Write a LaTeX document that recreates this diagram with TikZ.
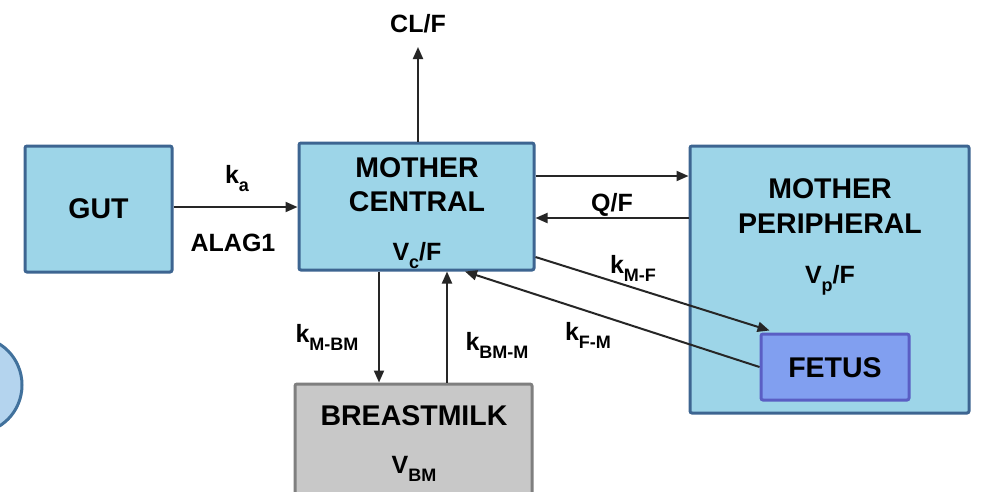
\documentclass[tikz,border=0pt]{standalone}
\usepackage{fontspec}
\setmainfont{Liberation Sans}
\usetikzlibrary{arrows.meta,calc}
\definecolor{boxfill}{HTML}{9DD5E8}
\definecolor{boxline}{HTML}{3D6591}
\definecolor{fetfill}{HTML}{819FF0}
\definecolor{fetline}{HTML}{5A5EC4}
\definecolor{bmfill}{HTML}{C8C8C8}
\definecolor{bmline}{HTML}{7F7F7F}
\definecolor{circfill}{HTML}{B4D4EE}
\definecolor{circline}{HTML}{41719C}
\definecolor{arrcol}{HTML}{262626}
\tikzset{
  compbox/.style={draw=boxline,fill=boxfill,line width=3pt,rounded corners=2pt,inner sep=0pt},
  bigtxt/.style={font=\fontsize{28.5}{30}\selectfont\bfseries,inner sep=0pt,anchor=base},
  lbltxt/.style={font=\fontsize{25}{27}\selectfont\bfseries,inner sep=0pt,anchor=base},
  arr/.style={draw=arrcol,line width=2pt,-{Triangle[length=12pt,width=10pt]}},
}
\newcommand{\subs}[1]{\raisebox{-0.35em}{\fontsize{18}{19}\selectfont\bfseries #1}}
\begin{document}
\begin{tikzpicture}[x=1pt,y=-1pt]
\clip (0,0) rectangle (981,491);
\fill[white] (0,0) rectangle (981,491);
% partial circle at left
\draw[draw=circline,fill=circfill,line width=3pt] (-25,385) ellipse [x radius=47,y radius=48];
% boxes
\node[compbox,minimum width=147pt,minimum height=126pt] (gut) at (98.5,209) {};
\node[compbox,minimum width=235pt,minimum height=127pt] (mc) at (416.5,206.5) {};
\node[compbox,minimum width=279pt,minimum height=267pt] (mp) at (829.5,279.5) {};
\node[draw=fetline,fill=fetfill,line width=3pt,rounded corners=2pt,inner sep=0pt,minimum width=148pt,minimum height=66pt] (fetus) at (835,367) {};
\node[draw=bmline,fill=bmfill,line width=3pt,rounded corners=2pt,inner sep=0pt,minimum width=237pt,minimum height=136pt] (bm) at (413.5,452) {};
% box texts
\node[bigtxt] (guttxt) at (98.5,218) {GUT};
\node[bigtxt] (mct1) at (417,177) {MOTHER};
\node[bigtxt] (mct2) at (417,211) {CENTRAL};
\node[lbltxt] (mcv) at (417,260) {V\subs{c}/F};
\node[bigtxt] (mpt1) at (830,198) {MOTHER};
\node[bigtxt] (mpt2) at (830,233) {PERIPHERAL};
\node[lbltxt] (mpv) at (830,283) {V\subs{p}/F};
\node[bigtxt] (fett) at (835,377) {FETUS};
\node[bigtxt] (bmt) at (414,425) {BREASTMILK};
\node[lbltxt] (bmv) at (414,473) {V\subs{BM}};
% labels
\node[lbltxt] (clf) at (418,32) {CL/F};
\node[lbltxt] (ka) at (237,183) {k\subs{a}};
\node[lbltxt] (alag) at (233,251) {ALAG1};
\node[lbltxt] (qf) at (612,211) {Q/F};
\node[lbltxt] (kmf) at (633,273) {k\subs{M-F}};
\node[lbltxt] (kfm) at (588,340) {k\subs{F-M}};
\node[lbltxt] (kmbm) at (327,342) {k\subs{M-BM}};
\node[lbltxt] (kbmm) at (497,350) {k\subs{BM-M}};
% connectors
\coordinate (clftip) at (418,47);
\draw[arr] (mc.north -| clftip) -- (clftip);
\draw[arr] (gut.east |- 0,207) -- (mc.west |- 0,207);
\coordinate (up1) at ($(mc.east)+(0,-30.5)$);
\draw[arr] (up1) -- (mp.west |- up1);
\coordinate (lo1) at ($(mc.east)+(0,11.5)$);
\draw[arr] (mp.west |- lo1) -- (lo1);
\coordinate (dn1) at ($(mc.south)+(-37.5,0)$);
\draw[arr] (dn1) -- (bm.north -| dn1);
\coordinate (up2) at ($(bm.north)+(33.5,0)$);
\draw[arr] (up2) -- (mc.south -| up2);
\draw[arr] ($(mc.east)+(0,50.5)$) -- ($(fetus.north west)+(10,-2)$);
\draw[arr] (fetus.west) -- ($(mc.south)+(48.5,0)$);
\end{tikzpicture}
\end{document}
